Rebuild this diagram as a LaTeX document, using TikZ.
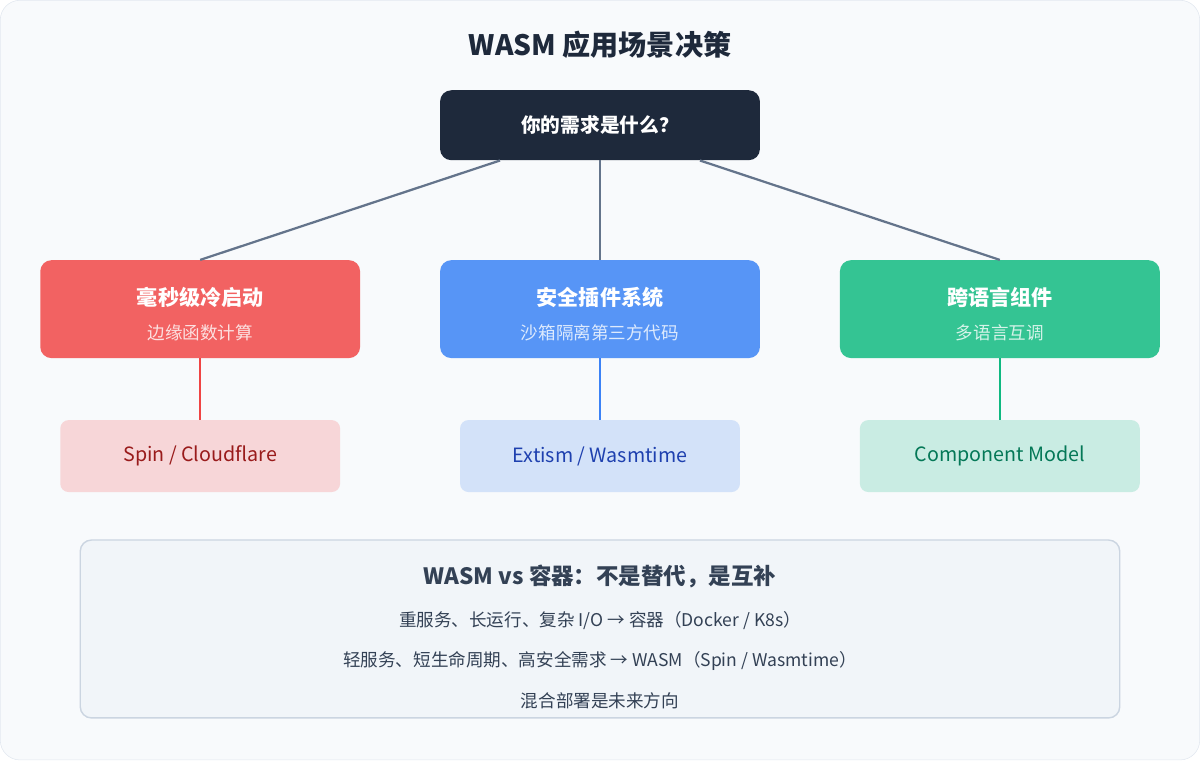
\documentclass[tikz,border=0pt]{standalone}
\usepackage{fontspec}
\setmainfont{Noto Sans CJK SC}
\usetikzlibrary{calc,positioning}
\definecolor{bgc}{HTML}{F8FAFC}
\definecolor{edgec}{HTML}{E2E8F0}
\definecolor{darkc}{HTML}{1E293B}
\definecolor{linec}{HTML}{64748B}
\definecolor{redc}{HTML}{F26262}
\definecolor{bluec}{HTML}{5795F6}
\definecolor{greenc}{HTML}{34C493}
\definecolor{redl}{HTML}{EF4444}
\definecolor{bluel}{HTML}{3B82F6}
\definecolor{greenl}{HTML}{10B981}
\definecolor{redp}{HTML}{F7D6D8}
\definecolor{bluep}{HTML}{D3E2F9}
\definecolor{greenp}{HTML}{C9ECE3}
\definecolor{redt}{HTML}{991B1B}
\definecolor{bluet}{HTML}{1E40AF}
\definecolor{greent}{HTML}{047857}
\definecolor{notec}{HTML}{F1F5F9}
\definecolor{noteb}{HTML}{CBD5E1}
\definecolor{textc}{HTML}{334155}
\tikzset{
	% main boxes
	punkt/.style={
		rectangle,
		rounded corners=8pt,
		minimum width=320*0.025cm,
		minimum height=98*0.025cm,
		text=white},
	% tool boxes
	tool/.style={
		rectangle,
		rounded corners=6pt,
		minimum width=280*0.025cm,
		minimum height=72*0.025cm,
		font=\fontsize{14}{16}\selectfont},
	% connector style
	pil/.style={line width=1.6pt},
	sub/.style={font=\fontsize{12.5}{14}\selectfont}
}
\begin{document}
\begin{tikzpicture}[x=0.025cm,y=-0.025cm]
	% background
	\draw[rounded corners=14pt, fill=bgc, draw=edgec] (0,0) rectangle (1200,760);
	\useasboundingbox (0,0) rectangle (1200,760);
	% title
	\node[font=\fontsize{20}{24}\selectfont\bfseries, text=darkc] (title) at (600,45) {WASM 应用场景决策};
	% question
	\node[punkt, fill=darkc, minimum height=70*0.025cm, font=\fontsize{14}{16}\selectfont\bfseries] (need) at (600,125) {你的需求是什么？};
	% three cases
	\node[punkt, fill=redc] (fast) at (200,309) {};
	\node[punkt, fill=bluec] (plugin) at (600,309) {};
	\node[punkt, fill=greenc] (lang) at (1000,309) {};
	\node[font=\fontsize{15}{18}\selectfont\bfseries, text=white] (fastt) at (200,297) {毫秒级冷启动};
	\node[sub, text=white!80!redc] (fasts) at (200,333) {边缘函数计算};
	\node[font=\fontsize{15}{18}\selectfont\bfseries, text=white] (plugint) at (600,297) {安全插件系统};
	\node[sub, text=white!80!bluec] (plugins) at (600,333) {沙箱隔离第三方代码};
	\node[font=\fontsize{15}{18}\selectfont\bfseries, text=white] (langt) at (1000,297) {跨语言组件};
	\node[sub, text=white!80!greenc] (langs) at (1000,333) {多语言互调};
	% tools
	\node[tool, fill=redp, text=redt] (spin) at (200,456) {Spin / Cloudflare};
	\node[tool, fill=bluep, text=bluet] (extism) at (600,456) {Extism / Wasmtime};
	\node[tool, fill=greenp, text=greent] (comp) at (1000,456) {Component Model};
	% connectors
	\draw[pil, linec] ($(need.south)+(-100,0)$) -- (fast.north);
	\draw[pil, linec] (need.south) -- (plugin.north);
	\draw[pil, linec] ($(need.south)+(100,0)$) -- (lang.north);
	\draw[pil, redl] (fast.south) -- (spin.north);
	\draw[pil, bluel] (plugin.south) -- (extism.north);
	\draw[pil, greenl] (lang.south) -- (comp.north);
	% summary
	\node[rectangle, rounded corners=8pt, fill=notec, draw=noteb, line width=1pt,
		minimum width=1040*0.025cm, minimum height=178*0.025cm] (note) at (600,629) {};
	\node[font=\fontsize{16}{18}\selectfont\bfseries, text=textc] (notet) at (600,576) {WASM vs 容器：不是替代，是互补};
	\node[sub, text=textc] (note1) at (600,621) {重服务、长运行、复杂 I/O → 容器（Docker / K8s）};
	\node[sub, text=textc] (note2) at (600,661) {轻服务、短生命周期、高安全需求 → WASM（Spin / Wasmtime）};
	\node[sub, text=textc] (note3) at (600,701) {混合部署是未来方向};
\end{tikzpicture}
\end{document}
